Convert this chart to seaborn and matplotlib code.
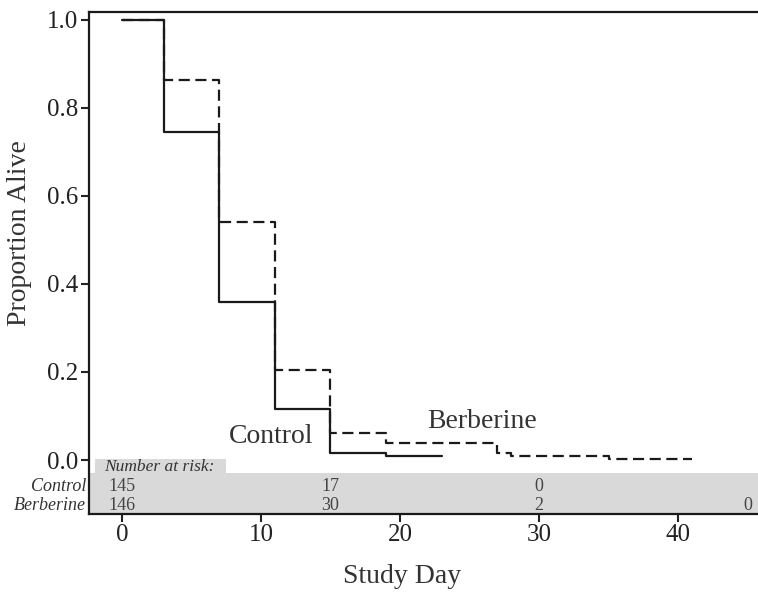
import matplotlib
matplotlib.use("Agg")
import matplotlib.pyplot as plt
import matplotlib.transforms as mtransforms
from matplotlib.patches import Rectangle
import seaborn as sns
import pandas as pd

# ---- data ----
control_days = [0, 3, 7, 11, 15, 19, 23]
control_surv = [1.0, 0.745, 0.36, 0.116, 0.017, 0.009, 0.009]
berb_days = [0, 3, 7, 11, 15, 19, 27, 28, 35, 41]
berb_surv = [1.0, 0.864, 0.541, 0.205, 0.061, 0.039, 0.017, 0.010, 0.003, 0.003]

risk_days = [0, 15, 30, 45]
risk_control = ["145", "17", "0", ""]
risk_berb = ["146", "30", "2", "0"]

xticks = [0, 10, 20, 30, 40]
yticks = [0.0, 0.2, 0.4, 0.6, 0.8, 1.0]

df = pd.concat([
    pd.DataFrame({"day": control_days, "surv": control_surv, "group": "Control"}),
    pd.DataFrame({"day": berb_days, "surv": berb_surv, "group": "Berberine"}),
], ignore_index=True)

sns.set_style("ticks")
plt.rcParams["font.family"] = ["Liberation Serif", "DejaVu Serif"]
plt.rcParams["text.color"] = "#333333"
plt.rcParams["axes.labelcolor"] = "#333333"
plt.rcParams["xtick.color"] = "#222222"
plt.rcParams["ytick.color"] = "#222222"

fig = plt.figure(figsize=(7.58, 5.95), dpi=100)
ax = fig.add_axes([0.1174, 0.1361, 0.8826, 0.843])

sns.lineplot(data=df, x="day", y="surv", style="group",
             dashes={"Control": "", "Berberine": (5, 2.5)},
             color="#1a1a1a", linewidth=1.6, drawstyle="steps-post",
             estimator=None, legend=False, ax=ax, zorder=3)

ax.set_xlim(-2.37, 45.75)
ax.set_ylim(-0.1227, 1.017)

# number-at-risk band
ax.axhspan(-0.1227, -0.0295, color="#d9d9d9", zorder=0, lw=0)
ax.add_patch(Rectangle((-1.94, -0.0295), 9.42, 0.0318, color="#d9d9d9",
                       zorder=0, lw=0))
ax.text(-1.3, -0.025, "Number at risk:", style="italic", fontsize=12.5,
        ha="left", va="baseline", color="#333333")
trans = mtransforms.blended_transform_factory(ax.transAxes, ax.transData)
ax.text(-0.004, -0.0705, "Control", style="italic", fontsize=13,
        ha="right", va="baseline", transform=trans, color="#333333")
ax.text(-0.004, -0.1136, "Berberine", style="italic", fontsize=13,
        ha="right", va="baseline", transform=trans, color="#333333")
for d, c, b in zip(risk_days, risk_control, risk_berb):
    ax.text(d, -0.0705, c, fontsize=13, ha="center", va="baseline", color="#444444")
    ax.text(d, -0.1136, b, fontsize=13, ha="center", va="baseline", color="#444444")

# curve labels
ax.text(10.7, 0.039, "Control", fontsize=20, ha="center", va="baseline", color="#333333")
ax.text(25.9, 0.0727, "Berberine", fontsize=20, ha="center", va="baseline", color="#333333")

ax.set_xticks(xticks)
ax.set_yticks(yticks)
ax.set_yticklabels([f"{v:.1f}" for v in yticks])
ax.tick_params(axis="both", labelsize=18, length=6, width=1.5, pad=1.5, direction="out")

ax.set_xlabel("Study Day", fontsize=20)
ax.set_ylabel("Proportion Alive", fontsize=20)
ax.xaxis.set_label_coords(0.468, -0.100)
ax.yaxis.set_label_coords(-0.085, 0.56)

for s in ["left", "bottom", "top"]:
    ax.spines[s].set_linewidth(1.6)
    ax.spines[s].set_color("#1a1a1a")
ax.spines["right"].set_visible(False)

fig.savefig("out.png", dpi=100)
